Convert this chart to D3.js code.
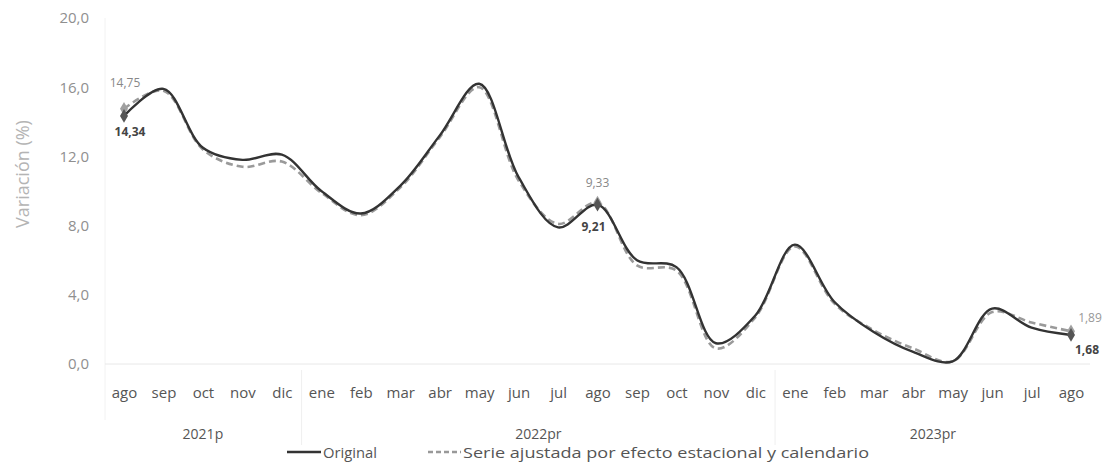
<!DOCTYPE html>
<html><head><meta charset="utf-8">
<script src="https://cdn.jsdelivr.net/npm/d3@7"></script>
<style>body{margin:0;background:#fff}svg{display:block}</style>
</head><body>
<svg id="c" width="1103" height="463"></svg>
<script>
const months = ["ago","sep","oct","nov","dic","ene","feb","mar","abr","may","jun","jul","ago","sep","oct","nov","dic","ene","feb","mar","abr","may","jun","jul","ago"];
const years = [{label:"2021p",from:0,to:4},{label:"2022pr",from:5,to:16},{label:"2023pr",from:17,to:24}];
const original = [14.34,15.9,12.5,11.8,12.1,10.0,8.7,10.3,13.2,16.2,10.8,7.9,9.21,6.0,5.6,1.2,2.8,6.9,3.6,1.85,0.7,0.15,3.2,2.1,1.68];
const adjusted = [14.75,15.8,12.4,11.4,11.7,9.9,8.6,10.2,13.1,16.0,10.6,8.1,9.33,5.7,5.4,0.9,2.7,6.8,3.5,1.95,0.9,0.15,3.0,2.4,1.89];
const yTicks = [0,4,8,12,16,20];
const labelIdx = [0,12,24];
const seriesNames = ["Original","Serie ajustada por efecto estacional y calendario"];

const svg = d3.select("#c");
const font = "'Open Sans',sans-serif";
const x = d3.scalePoint().domain(d3.range(months.length)).range([124,1071]);
const y = d3.scaleLinear().domain([0,20]).range([364,18]);

// faint frame lines
svg.append("line").attr("x1",105).attr("x2",105).attr("y1",18).attr("y2",420).attr("stroke","#f2f2f2");
[x(4)+(x(5)-x(4))/2, x(16)+(x(17)-x(16))/2].forEach(v=>{
  svg.append("line").attr("x1",v).attr("x2",v).attr("y1",370).attr("y2",445).attr("stroke","#efefef");
});
svg.append("line").attr("x1",105).attr("x2",1090).attr("y1",y(0)).attr("y2",y(0)).attr("stroke","#e8e8e8");

// y axis
const yAxis = d3.axisLeft(y).tickValues(yTicks).tickSize(0).tickPadding(0)
  .tickFormat(d=>d3.format(".1f")(d).replace(".",","));
const gy = svg.append("g").attr("transform","translate(89,0)").call(yAxis);
gy.select(".domain").remove();
gy.selectAll("text").attr("fill","#8f8f8f").style("font-family",font).style("font-size","15px");

svg.append("text").attr("transform","translate(29,174) rotate(-90)").attr("text-anchor","middle")
  .attr("fill","#b4b4b4").style("font-family",font).style("font-size","18px").text("Variación (%)");

// x axis
const xAxis = d3.axisBottom(x).tickSize(0).tickPadding(0).tickFormat(i=>months[i]);
const gx = svg.append("g").attr("transform","translate(0,387)").call(xAxis);
gx.select(".domain").remove();
gx.selectAll("text").attr("fill","#555").attr("dy","0.71em").style("font-family",font).style("font-size","15px");

years.forEach(yr=>{
  svg.append("text").attr("x",(x(yr.from)+x(yr.to))/2).attr("y",439).attr("text-anchor","middle")
    .attr("fill","#555").style("font-family",font).style("font-size","14px").text(yr.label);
});

// lines
const line = d3.line().x((d,i)=>x(i)).y(d=>y(d)).curve(d3.curveCatmullRom.alpha(0.5));
svg.append("path").datum(adjusted).attr("d",line).attr("fill","none").attr("stroke","#9a9a9a")
  .attr("stroke-width",2.6).attr("stroke-dasharray","7,4");
svg.append("path").datum(original).attr("d",line).attr("fill","none").attr("stroke","#333")
  .attr("stroke-width",2.4);

// markers
const sym = d3.symbol().type(d3.symbolDiamond).size(55);
labelIdx.forEach(i=>{
  svg.append("path").attr("d",sym).attr("transform",`translate(${x(i)},${y(adjusted[i])})`).attr("fill","#a0a0a0");
  svg.append("path").attr("d",sym).attr("transform",`translate(${x(i)},${y(original[i])})`).attr("fill","#555");
});
const fmt = v=>d3.format(".2f")(v).replace(".",",");
const lab = [
  {i:0,v:adjusted[0],dx:1,dy:-22,c:"#888",w:"normal"},
  {i:0,v:original[0],dx:6,dy:20,c:"#444",w:"bold"},
  {i:12,v:adjusted[12],dx:0,dy:-16,c:"#888",w:"normal"},
  {i:12,v:original[12],dx:-4,dy:26,c:"#444",w:"bold"},
  {i:24,v:adjusted[24],dx:19,dy:-9,c:"#999",w:"normal"},
  {i:24,v:original[24],dx:16,dy:19,c:"#444",w:"bold"}
];
lab.forEach(l=>{
  svg.append("text").attr("x",x(l.i)+l.dx).attr("y",y(l.v)+l.dy).attr("text-anchor","middle")
    .attr("fill",l.c).style("font-weight",l.w).style("font-family",font).style("font-size","12px").text(fmt(l.v));
});

// legend
const lg = svg.append("g");
lg.append("line").attr("x1",287).attr("x2",321).attr("y1",452).attr("y2",452).attr("stroke","#333").attr("stroke-width",2.5);
lg.append("text").attr("x",323).attr("y",458).attr("fill","#555").attr("textLength",54).attr("lengthAdjust","spacingAndGlyphs")
  .style("font-family",font).style("font-size","14px").text(seriesNames[0]);
lg.append("line").attr("x1",428).attr("x2",461).attr("y1",452).attr("y2",452).attr("stroke","#999").attr("stroke-width",2.5).attr("stroke-dasharray","5,3");
lg.append("text").attr("x",463).attr("y",458).attr("fill","#555").attr("textLength",406).attr("lengthAdjust","spacingAndGlyphs")
  .style("font-family",font).style("font-size","14px").text(seriesNames[1]);
</script>
</body></html>
